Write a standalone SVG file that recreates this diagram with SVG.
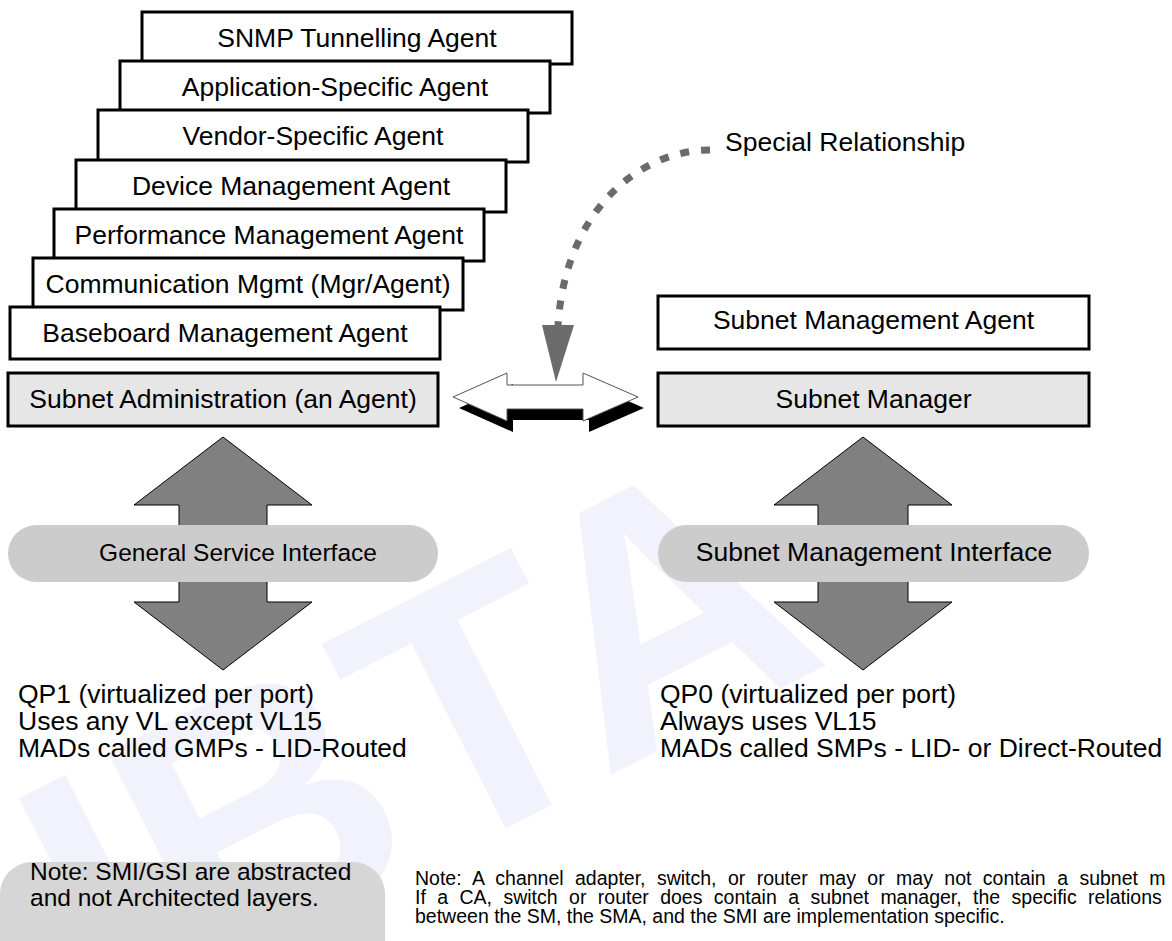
<svg xmlns="http://www.w3.org/2000/svg" width="1172" height="941" viewBox="0 0 1172 941">
<style>
.t{font-family:"Liberation Sans",Arial,Helvetica,sans-serif;font-size:26.5px;fill:#000}
.c{text-anchor:middle}
.box{fill:#fff;stroke:#000;stroke-width:3}
.gbox{fill:#e6e6e6;stroke:#000;stroke-width:3}
.pill{fill:#cccccc}
.big{fill:#808080;stroke:#000;stroke-width:1}
.wm{font-family:"Liberation Sans",Arial,sans-serif;font-weight:bold;font-size:360px;fill:#f2f2fc}
.n2{font-size:19.5px}
.j{word-spacing:6px}
</style>
<rect width="1172" height="941" fill="#fff"/>
<text class="wm" transform="translate(110,1030) rotate(-27)">IBTA</text>

<g id="connectors">
  <path d="M710 150 C640 150 565 210 558 326" fill="none" stroke="#6b6b6b" stroke-width="7" stroke-dasharray="9 12"/>
  <polygon points="542,325 574,325 556,382" fill="#6b6b6b"/>
  <polygon points="459,408 513,384 513,396 589,396 589,384 644,408 589,432 589,420 513,420 513,432" fill="#000"/>
  <polygon points="453,397 507,373 507,385 583,385 583,373 638,397 583,421 583,409 507,409 507,421" fill="#fff" stroke="#555" stroke-width="1"/>
  <polygon class="big" points="223,437 312,505 267,505 267,602 312,602 223,670 134,602 179,602 179,505 134,505"/>
  <polygon class="big" points="863,437 952,505 908,505 908,602 952,602 863,670 774,602 818,602 818,505 774,505"/>
</g>

<g id="snmp"><rect class="box" x="142" y="12" width="430" height="52"/><text class="t c" x="357" y="47">SNMP Tunnelling Agent</text></g>
<g id="application"><rect class="box" x="120" y="61" width="430" height="52"/><text class="t c" x="335" y="96">Application-Specific Agent</text></g>
<g id="vendor"><rect class="box" x="98" y="110" width="430" height="52"/><text class="t c" x="313" y="145">Vendor-Specific Agent</text></g>
<g id="device"><rect class="box" x="76" y="160" width="430" height="52"/><text class="t c" x="291" y="195">Device Management Agent</text></g>
<g id="performance"><rect class="box" x="54" y="209" width="430" height="52"/><text class="t c" x="269" y="244">Performance Management Agent</text></g>
<g id="communication"><rect class="box" x="33" y="258" width="430" height="52"/><text class="t c" x="248" y="293">Communication Mgmt (Mgr/Agent)</text></g>
<g id="baseboard"><rect class="box" x="10" y="307" width="430" height="52"/><text class="t c" x="225" y="342">Baseboard Management Agent</text></g>
<g id="sa"><rect class="gbox" x="8" y="373" width="430" height="53"/><text class="t c" x="223" y="408">Subnet Administration (an Agent)</text></g>

<g id="sma"><rect class="box" x="658" y="296" width="431" height="53"/><text class="t c" x="873.5" y="329">Subnet Management Agent</text></g>
<g id="sm"><rect class="gbox" x="658" y="373" width="431" height="53"/><text class="t c" x="873.5" y="408">Subnet Manager</text></g>

<g id="special"><text class="t" x="725" y="151">Special Relationship</text></g>

<g id="gsi"><rect class="pill" x="8" y="525" width="430" height="57" rx="28.5"/><text class="t c" style="font-size:24.5px" x="238" y="561">General Service Interface</text></g>
<g id="smi"><rect class="pill" x="658" y="525" width="431" height="57" rx="28.5"/><text class="t c" x="874" y="561">Subnet Management Interface</text></g>

<g id="qp1"><text class="t" x="18" y="703">QP1 (virtualized per port)</text><text class="t" x="18" y="730">Uses any VL except VL15</text><text class="t" x="18" y="757">MADs called GMPs - LID-Routed</text></g>
<g id="qp0"><text class="t" x="660" y="703">QP0 (virtualized per port)</text><text class="t" x="660" y="730">Always uses VL15</text><text class="t" x="660" y="757">MADs called SMPs - LID- or Direct-Routed</text></g>

<g id="note1"><rect x="0" y="862" width="385" height="120" rx="32" fill="#d6d6d6"/><text class="t" style="font-size:24.5px" x="30" y="880">Note: SMI/GSI are abstracted</text><text class="t" style="font-size:24.5px" x="30" y="906">and not Architected layers.</text></g>
<g id="note2"><text class="t n2 j" x="415" y="885">Note: A channel adapter, switch, or router may or may not contain a subnet m</text><text class="t n2 j" x="415" y="904">If a CA, switch or router does contain a subnet manager, the specific relations</text><text class="t n2" x="415" y="923">between the SM, the SMA, and the SMI are implementation specific.</text></g>
</svg>
